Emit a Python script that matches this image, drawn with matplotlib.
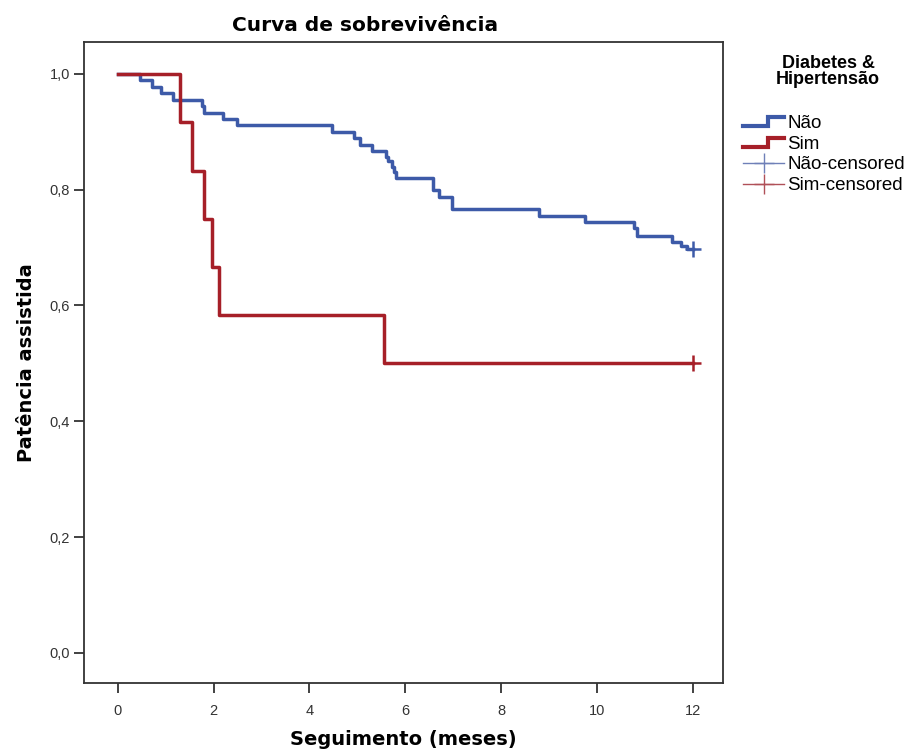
import numpy as np
import matplotlib
matplotlib.use("Agg")
import matplotlib.pyplot as plt
from matplotlib.lines import Line2D
from matplotlib.legend_handler import HandlerBase

plt.rcParams['font.family'] = ['Liberation Sans', 'DejaVu Sans']

# Kaplan-Meier steps
nao_t = [0, 0.46, 0.7, 0.9, 1.15, 1.75, 1.8, 2.19, 2.48, 4.48, 4.92, 5.06, 5.31, 5.6, 5.65,
         5.72, 5.76, 5.8, 6.57, 6.7, 6.98, 8.79, 9.75, 10.77, 10.84, 11.58, 11.75, 11.88, 12.0]
nao_s = [1.0, 0.989, 0.978, 0.967, 0.955, 0.944, 0.933, 0.922, 0.911, 0.900, 0.889, 0.878,
         0.867, 0.856, 0.850, 0.840, 0.830, 0.820, 0.799, 0.788, 0.766, 0.755, 0.744, 0.733,
         0.720, 0.710, 0.702, 0.698, 0.698]
sim_t = [0, 1.3, 1.55, 1.8, 1.97, 2.1, 5.55, 12.0]
sim_s = [1.0, 0.917, 0.833, 0.75, 0.667, 0.583, 0.5, 0.5]
censor_t = {'Não': [12.0], 'Sim': [12.0]}
censor_s = {'Não': [0.698], 'Sim': [0.5]}

blue = '#3d5aa8'
red = '#a61f28'
wide = ['DejaVu Sans']


class StepHandler(HandlerBase):
    # legend handle shaped like a small step
    def create_artists(self, legend, orig, xd, yd, w, h, fontsize, trans):
        x = [xd, xd + w * 0.6, xd + w * 0.6, xd + w]
        y = [yd + h * 0.1, yd + h * 0.1, yd + h * 0.8, yd + h * 0.8]
        ln = Line2D(x, y, color=orig.get_color(), lw=orig.get_linewidth(),
                    solid_joinstyle='miter', transform=trans)
        return [ln]


fig = plt.figure(figsize=(9.15, 7.54), dpi=100)
ax = fig.add_axes([0.0918, 0.0942, 0.698, 0.85])

ax.step(nao_t, nao_s, where='post', color=blue, lw=2.5)
ax.step(sim_t, sim_s, where='post', color=red, lw=2.5)
ax.plot(censor_t['Não'], censor_s['Não'], '+', color=blue, ms=11, mew=1.8)
ax.plot(censor_t['Sim'], censor_s['Sim'], '+', color=red, ms=11, mew=1.8)

ax.set_xlim(-0.71, 12.63)
ax.set_ylim(-0.052, 1.055)
ax.set_xticks([0, 2, 4, 6, 8, 10, 12])
ax.set_yticks([0.0, 0.2, 0.4, 0.6, 0.8, 1.0])
ax.set_yticklabels(['0,0', '0,2', '0,4', '0,6', '0,8', '1,0'])
for s in ax.spines.values():
    s.set_color('#333333')
    s.set_linewidth(1.3)
ax.tick_params(direction='out', length=7, width=1.3, color='#333333',
               labelsize=10.5, labelcolor='#333333')
ax.tick_params(axis='x', pad=8)
ax.tick_params(axis='y', pad=3)

fig.text(0.399, 0.966, 'Curva de sobrevivência', fontsize=14.5, fontweight='bold',
         family=wide, ha='center', va='center')
ax.set_xlabel('Seguimento (meses)', fontsize=14, fontweight='bold', family=wide, labelpad=9)
ax.set_ylabel('Patência assistida', fontsize=14, fontweight='bold', family=wide, labelpad=10)

# legend: separate title text, then the four entries
fig.text(0.905, 0.905, 'Diabetes &\nHipertensão', fontsize=13, fontweight='bold',
         ha='center', va='center', multialignment='center', linespacing=0.95)
h_nao = Line2D([], [], color=blue, lw=3)
h_sim = Line2D([], [], color=red, lw=3)
h_c1 = Line2D([], [], color='#6f80b8', lw=1.0, marker='+', ms=15, mew=1.0)
h_c2 = Line2D([], [], color='#b05058', lw=1.0, marker='+', ms=15, mew=1.0)
leg = fig.legend([h_nao, h_sim, h_c1, h_c2],
                 ['Não', 'Sim', 'Não-censored', 'Sim-censored'],
                 loc='upper left', bbox_to_anchor=(0.812, 0.848),
                 frameon=False, fontsize=13.5, handlelength=2.2, handletextpad=0.15,
                 labelspacing=0.2, borderpad=0, borderaxespad=0,
                 handler_map={h_nao: StepHandler(), h_sim: StepHandler()})

fig.savefig('out.png', dpi=100)
